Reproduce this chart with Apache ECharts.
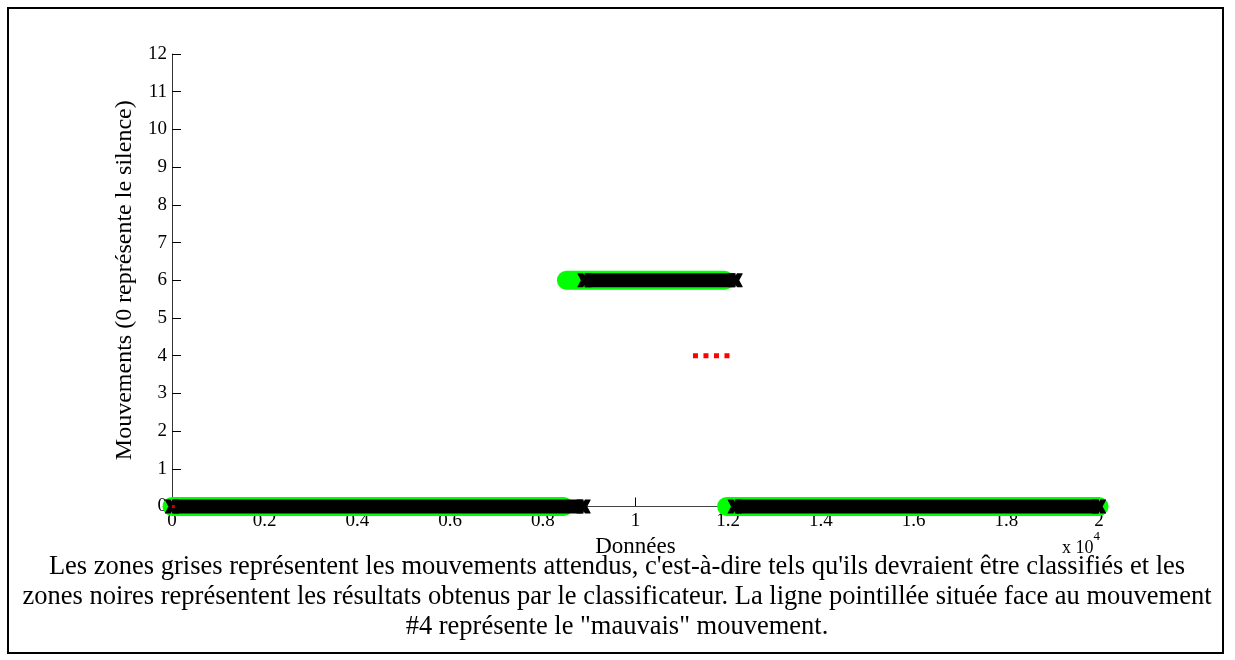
<!DOCTYPE html>
<html>
<head>
<meta charset="utf-8">
<script src="https://cdn.jsdelivr.net/npm/echarts@6/dist/echarts.min.js"></script>
<style>
html,body{margin:0;padding:0;background:#fff;}
#chart{width:1235px;height:660px;}
</style>
</head>
<body>
<div id="chart"></div>
<script>
// ---- data ----
// expected movements: [start, end, movement]
const expectedSegments = [[0, 8450, 0], [8510, 11920, 6], [11965, 20000, 0]];
// obtained by the classifier: [start, end, movement]
const obtainedSegments = [[0, 8880, 0], [8900, 12160, 6], [12140, 20000, 0]];
// the "wrong" movement (dotted line) and stray point
const wrongSegments = [[11240, 12030, 4]];
const wrongPoints = [[30, 0]];
const xTickValues = [0, 2000, 4000, 6000, 8000, 10000, 12000, 14000, 16000, 18000, 20000];
const xTickLabels = ['0', '0.2', '0.4', '0.6', '0.8', '1', '1.2', '1.4', '1.6', '1.8', '2'];
const yTickLabels = ['0','1','2','3','4','5','6','7','8','9','10','11','12'];
const captionLines = [
  "Les zones grises représentent les mouvements attendus, c'est-à-dire tels qu'ils devraient être classifiés et les",
  "zones noires représentent les résultats obtenus par le classificateur. La ligne pointillée située face au mouvement",
  "#4 représente le \"mauvais\" mouvement."
];
const xAxisTitle = 'Données';
const yAxisTitle = 'Mouvements (0 représente le silence)';

const FONT = '"Liberation Serif", "Times New Roman", serif';
const xMark = 'path://M0,0 L4,0 L5,1.6 L6,0 L10,0 L10,0.6 L7.6,5 L10,9.4 L10,10 L6,10 L5,8.4 L4,10 L0,10 L0,9.4 L2.4,5 L0,0.6 Z';

const series = [];
expectedSegments.forEach(s => {
  series.push({
    type: 'line', silent: true, clip: false, symbol: 'none', z: 2,
    data: [[s[0], s[2]], [s[1], s[2]]],
    lineStyle: { color: '#00ff00', width: 19, cap: 'round' }
  });
});
obtainedSegments.forEach(s => {
  series.push({
    type: 'line', silent: true, clip: false, z: 3,
    symbol: xMark, symbolSize: 14, showSymbol: true, showAllSymbol: true,
    itemStyle: { color: '#000', borderWidth: 0 },
    data: [[s[0], s[2]], [s[1], s[2]]],
    lineStyle: { color: '#000', width: 14, cap: 'butt' }
  });
});
wrongSegments.forEach(s => {
  series.push({
    type: 'line', silent: true, clip: false, symbol: 'none', z: 4,
    data: [[s[0], s[2]], [s[1], s[2]]],
    lineStyle: { color: '#ff0000', width: 5, type: [5, 5.5], cap: 'butt' }
  });
});
series.push({
  type: 'scatter', silent: true, z: 5, clip: false,
  symbol: 'rect', symbolSize: [3, 3],
  itemStyle: { color: '#ff0000' },
  data: wrongPoints
});

const chart = echarts.init(document.getElementById('chart'), null, { renderer: 'canvas' });
chart.setOption({
  animation: false,
  backgroundColor: '#ffffff',
  grid: { left: 172, right: 136, top: 54, bottom: 153.5, containLabel: false },
  xAxis: {
    type: 'value', min: 0, max: 20000, interval: 2000,
    name: xAxisTitle, nameLocation: 'middle', nameGap: 25,
    nameTextStyle: { fontFamily: FONT, fontSize: 23, color: '#000' },
    axisLine: { show: true, onZero: false, lineStyle: { color: '#444', width: 1 } },
    axisTick: { show: true, inside: true, length: 9, lineStyle: { color: '#000' } },
    axisLabel: {
      fontFamily: FONT, fontSize: 19, color: '#000', margin: 5,
      formatter: v => xTickLabels[xTickValues.indexOf(v)]
    },
    splitLine: { show: false }
  },
  yAxis: {
    type: 'value', min: 0, max: 12, interval: 1,
    name: yAxisTitle, nameLocation: 'middle', nameGap: 29, nameRotate: 90,
    nameTextStyle: { fontFamily: FONT, fontSize: 24, color: '#000' },
    axisLine: { show: true, onZero: false, lineStyle: { color: '#333', width: 1 } },
    axisTick: { show: true, inside: true, length: 9, lineStyle: { color: '#000' } },
    axisLabel: {
      fontFamily: FONT, fontSize: 19, color: '#000', margin: 5,
      formatter: v => yTickLabels[v]
    },
    splitLine: { show: false }
  },
  graphic: [
    {
      type: 'rect', silent: true, z: 100,
      shape: { x: 8, y: 8, width: 1215, height: 645 },
      style: { fill: 'none', stroke: '#000', lineWidth: 2 }
    },
    {
      type: 'text', silent: true, z: 100, left: 1062, top: 530,
      style: {
        text: '{b|x 10}{s|4}', fill: '#000',
        rich: {
          b: { fontFamily: FONT, fontSize: 18, verticalAlign: 'bottom', padding: [9, 0, 0, 0] },
          s: { fontFamily: FONT, fontSize: 13, verticalAlign: 'top', padding: [0, 0, 9, 0] }
        }
      }
    }
  ].concat(captionLines.map((t, i) => ({
    type: 'text', silent: true, z: 100,
    x: 617, y: 567 + i * 30,
    style: {
      text: t, fill: '#000', fontFamily: FONT, fontSize: 26.5,
      textAlign: 'center', textVerticalAlign: 'middle'
    }
  }))),
  series: series
});
</script>
</body>
</html>
